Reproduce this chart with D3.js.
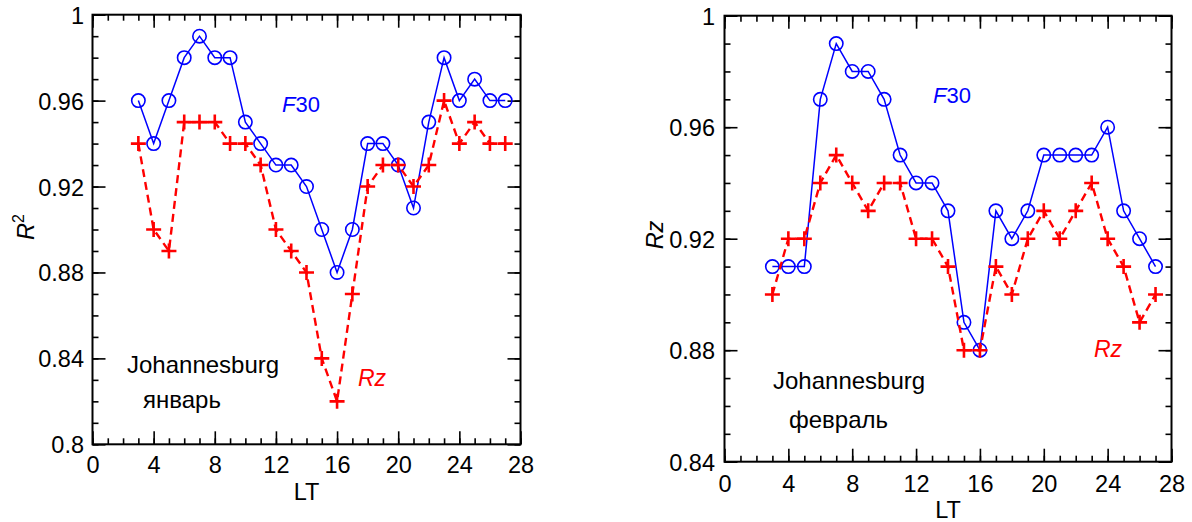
<!DOCTYPE html>
<html><head><meta charset="utf-8">
<script src="https://cdnjs.cloudflare.com/ajax/libs/d3/7.8.5/d3.min.js"></script>
<style>
html,body{margin:0;padding:0;background:#fff;}
svg{display:block;font-family:"Liberation Sans",Arial,sans-serif;}
</style></head><body>
<svg id="c" width="1192" height="522"></svg>
<script>
// ---- data ----
const lt = [3,4,5,6,7,8,9,10,11,12,13,14,15,16,17,18,19,20,21,22,23,24,25,26,27];
const janF30 = [0.96,0.94,0.96,0.98,0.99,0.98,0.98,0.95,0.94,0.93,0.93,0.92,0.90,0.88,0.90,0.94,0.94,0.93,0.91,0.95,0.98,0.96,0.97,0.96,0.96];
const janRz  = [0.94,0.90,0.89,0.95,0.95,0.95,0.94,0.94,0.93,0.90,0.89,0.88,0.84,0.82,0.87,0.92,0.93,0.93,0.92,0.93,0.96,0.94,0.95,0.94,0.94];
const febF30 = [0.91,0.91,0.91,0.97,0.99,0.98,0.98,0.97,0.95,0.94,0.94,0.93,0.89,0.88,0.93,0.92,0.93,0.95,0.95,0.95,0.95,0.96,0.93,0.92,0.91];
const febRz  = [0.90,0.92,0.92,0.94,0.95,0.94,0.93,0.94,0.94,0.92,0.92,0.91,0.88,0.88,0.91,0.90,0.92,0.93,0.92,0.93,0.94,0.92,0.91,0.89,0.90];
const xTicks = [0,4,8,12,16,20,24,28];
const janYTicks = [0.8,0.84,0.88,0.92,0.96,1];
const febYTicks = [0.84,0.88,0.92,0.96,1];
const janYLabels = ["0.8","0.84","0.88","0.92","0.96","1"];
const febYLabels = ["0.84","0.88","0.92","0.96","1"];
const xLabel = "LT";
const stationName = "Johannesburg";
const months = ["январь","февраль"];

const svg = d3.select("#c");
const BLUE = "#0000ff", RED = "#ff0000";

function panel(o){
  const g = svg.append("g");
  const x = d3.scaleLinear().domain([0,28]).range([o.l,o.r]);
  const y = d3.scaleLinear().domain(o.yDom).range([o.b,o.t]);
  const xMinor = d3.range(0,29,1);
  const yMinor = d3.range(Math.round(o.yDom[0]*100), Math.round(o.yDom[1]*100)+1).map(v=>v/100);
  const fs = "23.5px";
  function ax(axisFn, scale, tv, size, tr, labels){
    const a = axisFn(scale).tickValues(tv).tickSizeInner(size).tickSizeOuter(0).tickPadding(8);
    if(labels) a.tickFormat((d,i)=>labels[i]); else a.tickFormat("");
    const s = g.append("g").attr("transform",tr).call(a);
    s.select(".domain").remove();
    s.selectAll("line").attr("stroke","#000").attr("stroke-width",1.6);
    s.selectAll("text").attr("font-size",fs).attr("fill","#000").attr("font-family","Liberation Sans, Arial, sans-serif");
    return s;
  }
  // minor ticks
  ax(d3.axisBottom, x, xMinor, -6, `translate(0,${o.b})`);
  ax(d3.axisTop, x, xMinor, -6, `translate(0,${o.t})`);
  ax(d3.axisLeft, y, yMinor, -6, `translate(${o.l},0)`);
  ax(d3.axisRight, y, yMinor, -6, `translate(${o.r},0)`);
  // major ticks
  const bx = ax(d3.axisBottom, x, xTicks, -13, `translate(0,${o.b})`, xTicks.map(String));
  bx.selectAll("text").attr("dy",null).attr("y",o.xLabY).attr("dominant-baseline","central");
  ax(d3.axisTop, x, xTicks, -13, `translate(0,${o.t})`);
  const ly = ax(d3.axisLeft, y, o.yTicks, -13, `translate(${o.l},0)`, o.yLabels);
  ly.selectAll("text").attr("x",-(o.l-o.yLabRight)).attr("dy","0.36em");
  ax(d3.axisRight, y, o.yTicks, -13, `translate(${o.r},0)`);
  // frame
  g.append("rect").attr("x",o.l).attr("y",o.t).attr("width",o.r-o.l).attr("height",o.b-o.t)
    .attr("fill","none").attr("stroke","#000").attr("stroke-width",2);

  // series F30
  const line = d3.line().x((d,i)=>x(lt[i])).y(d=>y(d));
  g.append("path").datum(o.f30).attr("d",line).attr("fill","none").attr("stroke",BLUE).attr("stroke-width",1.5);
  g.selectAll("circle.f").data(o.f30).join("circle").attr("class","f")
    .attr("cx",(d,i)=>x(lt[i])).attr("cy",d=>y(d)).attr("r",6.7)
    .attr("fill","none").attr("stroke",BLUE).attr("stroke-width",1.6);
  // series Rz
  g.append("path").datum(o.rz).attr("d",line).attr("fill","none").attr("stroke",RED)
    .attr("stroke-width",2.4).attr("stroke-dasharray","8,5");
  const s = 7.5;
  g.selectAll("path.p").data(o.rz).join("path").attr("class","p")
    .attr("d",(d,i)=>{const cx=x(lt[i]),cy=y(d);return `M${cx-s},${cy}H${cx+s}M${cx},${cy-s}V${cy+s}`;})
    .attr("stroke",RED).attr("stroke-width",2.6).attr("fill","none");

  // axis titles
  g.append("text").attr("x",(o.l+o.r)/2).attr("y",o.ltY).attr("text-anchor","middle")
    .attr("dominant-baseline","central").attr("font-size",fs).text(xLabel);
  const yt = g.append("text").attr("transform",`translate(${o.yTitleX},${o.yTitleY}) rotate(-90)`)
    .attr("text-anchor","middle").attr("dominant-baseline","central").attr("font-size",fs);
  if(o.sup){
    yt.append("tspan").attr("font-style","italic").text("R");
    yt.append("tspan").attr("font-size","16px").attr("dy","-8").text("2");
  } else {
    yt.append("tspan").attr("font-style","italic").text("Rz");
  }
  // annotations
  const f = g.append("text").attr("x",o.f30Pos[0]).attr("y",o.f30Pos[1]).attr("fill",BLUE).attr("font-size","22px");
  f.append("tspan").attr("font-style","italic").text("F");
  f.append("tspan").text("30");
  g.append("text").attr("x",o.rzPos[0]).attr("y",o.rzPos[1]).attr("fill",RED).attr("font-size","23px")
    .attr("font-style","italic").text("Rz");
  g.append("text").attr("x",o.stPos[0]).attr("y",o.stPos[1]).attr("font-size","24px").text(stationName);
  g.append("text").attr("x",o.moPos[0]).attr("y",o.moPos[1]).attr("font-size","24px").text(o.month);
}

panel({l:92.5,r:520.5,t:14.7,b:444.3,yDom:[0.8,1],yTicks:janYTicks,yLabels:janYLabels,
  f30:janF30,rz:janRz,xLabY:21,ltY:491.5,yLabRight:84,yTitleX:26,yTitleY:227,sup:true,
  f30Pos:[282,112],rzPos:[358,386],stPos:[127,373],moPos:[143,408],month:months[0]});
panel({l:724.5,r:1171.5,t:15.7,b:461.7,yDom:[0.84,1],yTicks:febYTicks,yLabels:febYLabels,
  f30:febF30,rz:febRz,xLabY:22,ltY:510,yLabRight:715,yTitleX:655,yTitleY:235,sup:false,
  f30Pos:[933,103],rzPos:[1094,357],stPos:[773,389],moPos:[789,428],month:months[1]});
</script>
</body></html>
